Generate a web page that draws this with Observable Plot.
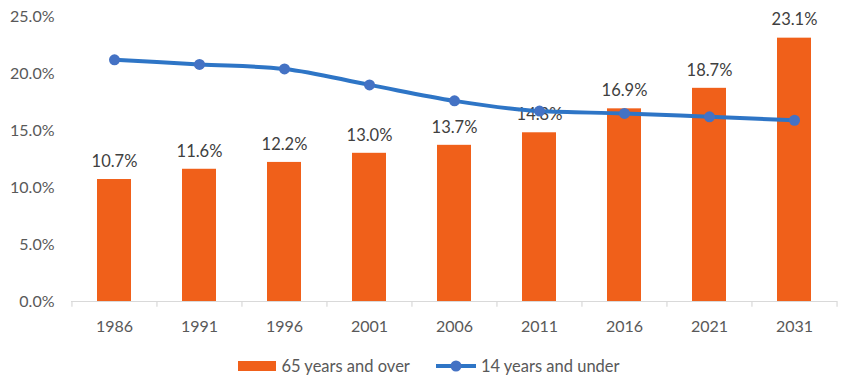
<!DOCTYPE html>
<html>
<head>
<meta charset="utf-8">
<script src="https://cdn.jsdelivr.net/npm/d3@7"></script>
<script src="https://cdn.jsdelivr.net/npm/@observablehq/plot@0.6"></script>
<style>
  html, body { margin: 0; padding: 0; background: #fff; }
  body { width: 850px; height: 392px; overflow: hidden; font-family: Lato, "Open Sans", sans-serif; }
  #legend { display: flex; justify-content: center; align-items: center; gap: 26px; height: 42px; font-size: 16.5px; color: #595959; margin-left: 8px; }
  .item { display: flex; align-items: center; gap: 5px; }
</style>
</head>
<body>
<div id="chart"></div>
<div id="legend">
  <div class="item"><svg width="38" height="12"><rect x="0" y="1" width="38" height="10" fill="#F0601A"></rect></svg><span>65 years and over</span></div>
  <div class="item"><svg width="40" height="14"><line x1="0" y1="7" x2="40" y2="7" stroke="#2E75C6" stroke-width="4"></line><circle cx="20" cy="7" r="5.5" fill="#4472C4"></circle></svg><span>14 years and under</span></div>
</div>
<script>
const years = ["1986", "1991", "1996", "2001", "2006", "2011", "2016", "2021", "2031"];
const over65 = [10.7, 11.6, 12.2, 13.0, 13.7, 14.8, 16.9, 18.7, 23.1];
const under14 = [21.2, 20.8, 20.4, 19.0, 17.6, 16.7, 16.5, 16.2, 15.9];
const yTicks = [0, 5, 10, 15, 20, 25];

const data = years.map((y, i) => ({year: y, over65: over65[i], under14: under14[i]}));

const W = 850, H = 345, mL = 71, mR = 13, mT = 16, mB = 44;
const step = (W - mL - mR) / years.length;

const chart = Plot.plot({
  width: W, height: H,
  marginLeft: mL, marginRight: mR, marginTop: mT, marginBottom: mB,
  style: {fontFamily: "Lato, 'Open Sans', sans-serif", fontSize: "16px", color: "#595959", background: "#fff"},
  x: {domain: years, paddingInner: 0.6, paddingOuter: 0.3, label: null, tickSize: 0, tickPadding: 19},
  y: {domain: [0, 25], ticks: yTicks, tickFormat: d => d.toFixed(1) + "%", label: null, tickSize: 0, tickPadding: 17},
  marks: [
    Plot.barY(data, {x: "year", y: "over65", fill: "#F0601A"}),
    Plot.ruleY([0], {stroke: "#d9d9d9", strokeWidth: 1.2}),
    Plot.ruleX(years, {x: d => d, dx: -step / 2, y1: 0, y2: -0.5, stroke: "#d9d9d9", strokeWidth: 1.2}),
    Plot.ruleX([years[years.length - 1]], {x: d => d, dx: step / 2, y1: 0, y2: -0.5, stroke: "#d9d9d9", strokeWidth: 1.2}),
    Plot.text(data, {x: "year", y: "over65", text: d => d.over65.toFixed(1) + "%", dy: -18, fill: "#404040", fontSize: 16.5}),
    Plot.line(data, {x: "year", y: "under14", stroke: "#2E75C6", strokeWidth: 4, curve: "monotone-x"}),
    Plot.dot(data, {x: "year", y: "under14", r: 5.5, fill: "#4472C4", stroke: "none"})
  ]
});
document.getElementById("chart").appendChild(chart);
</script>
</body>
</html>
